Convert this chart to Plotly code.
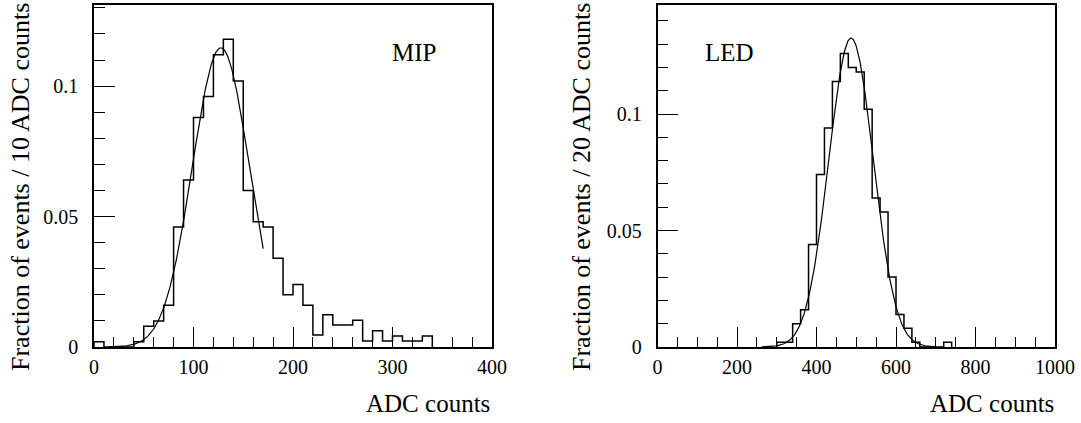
import plotly.graph_objects as go
import numpy as np

# ---------------- data ----------------
# MIP histogram: 10 ADC bins, lower edges and fractions
mip_bin_width = 10
mip_edges = list(range(0, 340, 10))
mip_values = [0.002, 0.0, 0.0, 0.0, 0.002, 0.008, 0.010, 0.016, 0.046, 0.064,
              0.088, 0.096, 0.112, 0.118, 0.102, 0.060, 0.048, 0.046, 0.034, 0.020,
              0.024, 0.016, 0.0046, 0.0124, 0.0084, 0.0084, 0.0103, 0.0023, 0.0062, 0.0023,
              0.0042, 0.0023, 0.0023, 0.0042]
# Gaussian fit to MIP peak (amplitude, mean, sigma, fit range)
mip_fit_amp, mip_fit_mean, mip_fit_sigma = 0.1147, 127.5, 28.5
mip_fit_range = (15, 170)

# LED histogram: 20 ADC bins
led_bin_width = 20
led_edges = list(range(300, 740, 20))
led_values = [0.002, 0.002, 0.010, 0.016, 0.044, 0.074, 0.094, 0.114, 0.126, 0.120,
              0.118, 0.102, 0.064, 0.058, 0.030, 0.014, 0.008, 0.002, 0.0, 0.0,
              0.0, 0.002]
led_fit_amp, led_fit_mean, led_fit_sigma = 0.1326, 487.0, 56.0
led_fit_range = (262, 702)

mip_xticks = [0, 100, 200, 300, 400]
led_xticks = [0, 200, 400, 600, 800, 1000]
yticks = [0, 0.05, 0.1]
ytick_text = ["0", "0.05", "0.1"]

W, H = 1081, 423
FONT = "Liberation Serif"


def step_xy(edges, values, width):
    xs = [edges[0]] + list(edges) + [edges[-1] + width]
    ys = [0] + list(values) + [0]
    return xs, ys


def gauss(amp, mean, sigma, rng):
    x = np.linspace(rng[0], rng[1], 300)
    return x, amp * np.exp(-0.5 * ((x - mean) / sigma) ** 2)


fig = go.Figure()

hx, hy = step_xy(mip_edges, mip_values, mip_bin_width)
fig.add_trace(go.Scatter(x=hx, y=hy, mode="lines", line=dict(color="black", width=1.5, shape="hv"),
                         xaxis="x", yaxis="y", showlegend=False))
fx, fy = gauss(mip_fit_amp, mip_fit_mean, mip_fit_sigma, mip_fit_range)
fig.add_trace(go.Scatter(x=fx, y=fy, mode="lines", line=dict(color="black", width=1.2),
                         xaxis="x", yaxis="y", showlegend=False))

hx, hy = step_xy(led_edges, led_values, led_bin_width)
fig.add_trace(go.Scatter(x=hx, y=hy, mode="lines", line=dict(color="black", width=1.5, shape="hv"),
                         xaxis="x2", yaxis="y2", showlegend=False))
fx, fy = gauss(led_fit_amp, led_fit_mean, led_fit_sigma, led_fit_range)
fig.add_trace(go.Scatter(x=fx, y=fy, mode="lines", line=dict(color="black", width=1.2),
                         xaxis="x2", yaxis="y2", showlegend=False))

tickfont = dict(family=FONT, size=20, color="black")


def xax(domain, rng, ticks, minor_dtick, anchor):
    return dict(domain=domain, range=rng, tickmode="array", tickvals=ticks,
                ticktext=[str(t) for t in ticks], ticks="inside", ticklen=20, tickwidth=1,
                tickcolor="black", minor=dict(ticks="inside", ticklen=10, dtick=minor_dtick,
                                              tick0=0, tickcolor="black", tickwidth=1),
                showline=True, mirror=True, linecolor="black", linewidth=1.5,
                showgrid=False, zeroline=False, tickfont=tickfont, anchor=anchor,
                ticklabelstandoff=1, fixedrange=True, automargin=False)


def yax(domain, rng, anchor):
    return dict(domain=domain, range=rng, tickmode="array", tickvals=yticks, ticktext=ytick_text,
                ticks="inside", ticklen=21, tickwidth=1, tickcolor="black",
                minor=dict(ticks="inside", ticklen=11, dtick=0.01, tick0=0,
                           tickcolor="black", tickwidth=1),
                showline=True, mirror=True, linecolor="black", linewidth=1.5,
                showgrid=False, zeroline=False, tickfont=tickfont, anchor=anchor,
                ticklabelstandoff=10, fixedrange=True, automargin=False)


ybot = (H - 347) / H
ytop = (H - 5) / H
fig.update_layout(
    width=W, height=H, margin=dict(l=0, r=0, t=0, b=0),
    paper_bgcolor="white", plot_bgcolor="white",
    xaxis=xax([94 / W, 492 / W], [0, 400], mip_xticks, 20, "y"),
    yaxis=yax([ybot, ytop], [0, 0.1311], "x"),
    xaxis2=xax([657.5 / W, 1055 / W], [0, 1000], led_xticks, 50, "y2"),
    yaxis2=yax([ybot, ytop], [0, 0.1468], "x2"),
)

afont = dict(family=FONT, size=25, color="black")
tfont = dict(family=FONT, size=26, color="black")
annots = [
    dict(text="MIP", x=414 / W, y=(H - 53) / H, xanchor="center", yanchor="middle", font=afont),
    dict(text="LED", x=729 / W, y=(H - 53) / H, xanchor="center", yanchor="middle", font=afont),
    dict(text="ADC counts", x=492 / W, y=(H - 403) / H, xanchor="right", yanchor="middle", font=afont),
    dict(text="ADC counts", x=1056 / W, y=(H - 403) / H, xanchor="right", yanchor="middle", font=afont),
    dict(text="Fraction of events / 10 ADC counts", x=20 / W, y=(H - 1) / H,
         xanchor="center", yanchor="top", textangle=-90, font=tfont),
    dict(text="Fraction of events / 20 ADC counts", x=581 / W, y=(H - 1) / H,
         xanchor="center", yanchor="top", textangle=-90, font=tfont),
]
for a in annots:
    fig.add_annotation(xref="paper", yref="paper", showarrow=False, **a)

fig.write_html("out.html", config={"displayModeBar": False},
               post_script="document.body.style.margin='0';document.body.style.overflow='hidden';")
